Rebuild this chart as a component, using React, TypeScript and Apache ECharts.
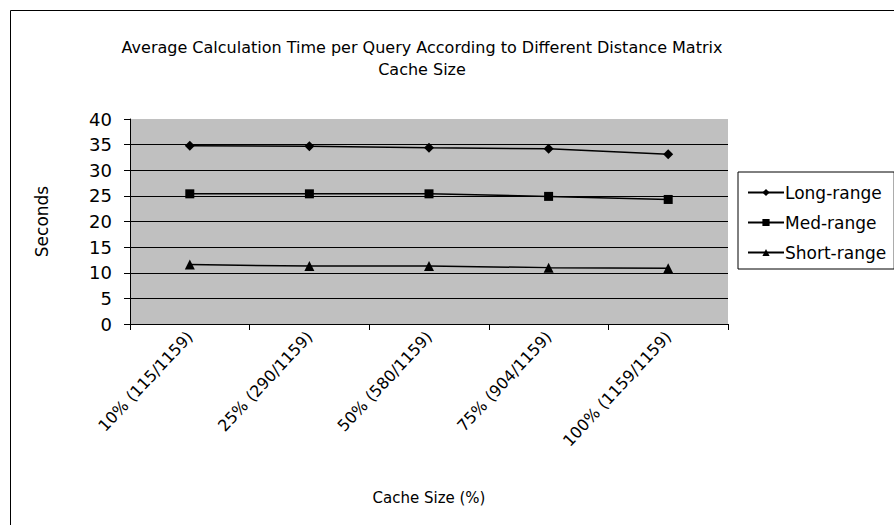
import React, { useEffect, useRef } from "react";
import * as echarts from "echarts";

const categories = [
  "10% (115/1159)",
  "25% (290/1159)",
  "50% (580/1159)",
  "75% (904/1159)",
  "100% (1159/1159)",
];
const longRange = [34.8, 34.7, 34.4, 34.2, 33.1];
const medRange = [25.4, 25.4, 25.4, 24.9, 24.3];
const shortRange = [11.6, 11.3, 11.3, 11.0, 10.9];
const yTicks = { min: 0, max: 40, interval: 5 };

const FONT = "DejaVu Sans";

export default function App() {
  const ref = useRef<HTMLDivElement>(null);
  useEffect(() => {
    if (!ref.current) return;
    const chart = echarts.init(ref.current, undefined, { renderer: "svg" });
    const mk = (name: string, data: number[], symbol: string, size: number) => ({
      name,
      type: "line",
      data,
      symbol,
      symbolSize: size,
      itemStyle: { color: "#000" },
      lineStyle: { color: "#000", width: 1.5 },
    });
    chart.setOption({
      animation: false,
      backgroundColor: "#fff",
      textStyle: { fontFamily: FONT, color: "#000" },
      title: {
        text: "Average Calculation Time per Query According to Different Distance Matrix\nCache Size",
        left: 417,
        top: 31,
        textAlign: "center",
        textStyle: { fontFamily: FONT, fontSize: 16, fontWeight: "normal", color: "#000", lineHeight: 22 },
      },
      graphic: [
        {
          type: "rect",
          shape: { x: 10.5, y: 10.5, width: 1000, height: 1000 },
          style: { fill: "none", stroke: "#000", lineWidth: 1 },
          silent: true,
        },
      ],
      legend: {
        orient: "vertical",
        left: 738,
        top: 172,
        itemWidth: 36,
        itemHeight: 9,
        itemGap: 13,
        padding: [12, 8, 8, 9],
        borderColor: "#000",
        borderWidth: 1,
        backgroundColor: "#fff",
        textStyle: { fontFamily: FONT, fontSize: 17, color: "#000", padding: [0, 0, 0, -4] },
        data: ["Long-range", "Med-range", "Short-range"],
      },
      grid: {
        left: 130,
        right: 166,
        top: 119,
        bottom: 201,
        show: true,
        backgroundColor: "#C0C0C0",
        borderWidth: 0,
      },
      xAxis: {
        type: "category",
        data: categories,
        boundaryGap: true,
        name: "Cache Size (%)",
        nameLocation: "middle",
        nameGap: 166,
        nameTextStyle: { fontFamily: FONT, fontSize: 15, color: "#000" },
        axisLine: { lineStyle: { color: "#000", width: 1 } },
        axisTick: { show: true, inside: false, length: 6, lineStyle: { color: "#000" } },
        axisLabel: { rotate: 47, fontFamily: FONT, fontSize: 16, color: "#000", margin: 10, interval: 0 },
        splitLine: { show: false },
      },
      yAxis: {
        type: "value",
        min: yTicks.min,
        max: yTicks.max,
        interval: yTicks.interval,
        name: "Seconds",
        nameLocation: "middle",
        nameGap: 80,
        nameRotate: 90,
        nameTextStyle: { fontFamily: FONT, fontSize: 17, color: "#000" },
        axisLine: { show: true, lineStyle: { color: "#000", width: 1 } },
        axisTick: { show: true, inside: false, length: 6, lineStyle: { color: "#000" } },
        axisLabel: { fontFamily: FONT, fontSize: 18, color: "#000", margin: 18 },
        splitLine: { show: true, showMaxLine: false, lineStyle: { color: "#000", width: 1 } },
      },
      series: [
        mk("Long-range", longRange, "diamond", 10),
        mk("Med-range", medRange, "rect", 9),
        mk("Short-range", shortRange, "triangle", 10),
      ],
    });
    return () => chart.dispose();
  }, []);
  return (
    <div
      ref={ref}
      style={{ position: "absolute", left: 0, top: 0, width: 894, height: 525 }}
    />
  );
}
